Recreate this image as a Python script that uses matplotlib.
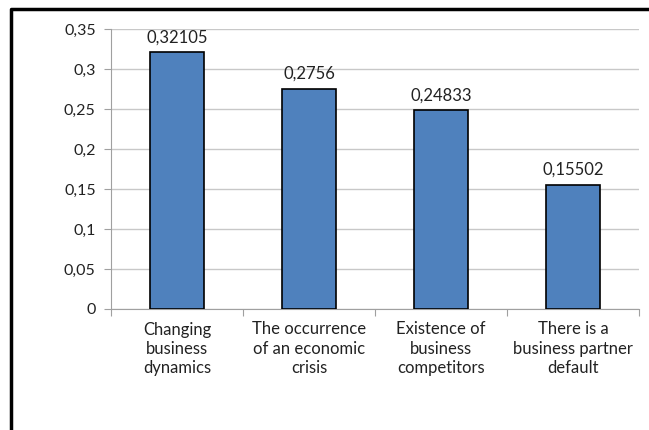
import matplotlib.pyplot as plt
from matplotlib.lines import Line2D

# risk factors and their weights
categories = ['Changing\nbusiness\ndynamics',
              'The occurrence\nof an economic\ncrisis',
              'Existence of\nbusiness\ncompetitors',
              'There is a\nbusiness partner\ndefault']
values = [0.32105, 0.2756, 0.24833, 0.15502]
value_labels = ['0,32105', '0,2756', '0,24833', '0,15502']
yticks = [0, 0.05, 0.1, 0.15, 0.2, 0.25, 0.3, 0.35]
ytick_labels = ['0', '0,05', '0,1', '0,15', '0,2', '0,25', '0,3', '0,35']

plt.rcParams['font.family'] = ['Lato', 'DejaVu Sans']

fig = plt.figure(figsize=(6.49, 4.30), dpi=100)
ax = fig.add_axes([111/649, 1 - 309/430, (639 - 111)/649, (309 - 29)/430])

x = list(range(len(values)))
ax.bar(x, values, width=0.41, color='#4F81BD', edgecolor='black', linewidth=1.2, zorder=3)

for xi, v, lab in zip(x, values, value_labels):
    ax.annotate(lab, (xi, v), xytext=(0, 5), textcoords='offset points',
                ha='center', va='bottom', fontsize=12, color='#222222')

ax.set_xlim(-0.5, len(values) - 0.5)
ax.set_ylim(0, 0.35)
ax.set_yticks(yticks)
ax.set_yticklabels(ytick_labels, fontsize=11.5, color='#222222')
ax.yaxis.grid(True, color='#c8c8c8', linewidth=1, zorder=0)

# category labels centred, ticks on the boundaries
ax.set_xticks([i - 0.5 for i in range(len(values) + 1)])
ax.set_xticklabels([])
ax.set_xticks(x, minor=True)
ax.set_xticklabels(categories, minor=True, fontsize=12, color='#222222', linespacing=1.25)
ax.tick_params(axis='x', which='minor', length=0, pad=9)
ax.tick_params(axis='x', which='major', length=5, color='#a0a0a0')
ax.tick_params(axis='y', length=5, color='#a0a0a0', pad=6)

for side in ['top', 'right']:
    ax.spines[side].set_visible(False)
ax.spines['left'].set_color('#a0a0a0')
ax.spines['bottom'].set_color('#a0a0a0')

# outer frame, left and top edges
fig.add_artist(Line2D([10.5/649, 10.5/649, 1.0], [0.0, 1 - 9/430, 1 - 9/430],
                      transform=fig.transFigure, color='black', linewidth=2.5))

fig.savefig('out.png', dpi=100)
